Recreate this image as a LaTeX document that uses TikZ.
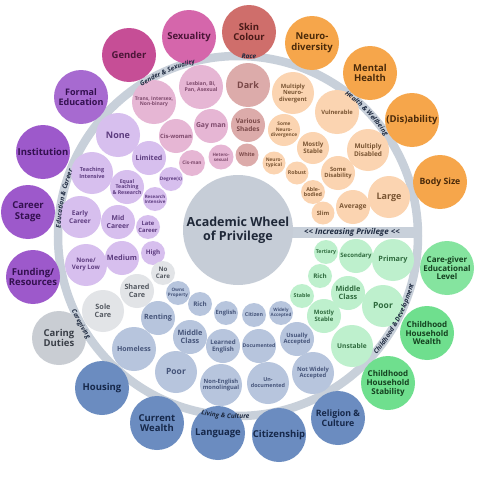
\documentclass[tikz,border=0pt]{standalone}
\usepackage{fontspec}
\setmainfont{Open Sans}
\usetikzlibrary{decorations.text}
\newcommand\fsz[1]{\fontsize{#1}{1.12\dimexpr#1pt\relax}\selectfont}
\definecolor{ringc}{HTML}{C8D0DA}
\definecolor{centerc}{HTML}{C6CDD7}
\definecolor{centertxt}{HTML}{1F2838}
\definecolor{ringtxt}{HTML}{1E2A40}
\definecolor{genderc}{HTML}{C64E96}
\definecolor{sexualc}{HTML}{D566AB}
\definecolor{skinc}{HTML}{CF6E6B}
\definecolor{orangec}{HTML}{F6A64B}
\definecolor{greenc}{HTML}{6FDF8E}
\definecolor{bluec}{HTML}{6B8CC0}
\definecolor{carec}{HTML}{C9CDD3}
\definecolor{purplec}{HTML}{9D59CB}
\definecolor{gendertxt}{HTML}{4A1536}
\definecolor{skintxt}{HTML}{4A1A18}
\definecolor{orangetxt}{HTML}{4A2A0A}
\definecolor{greentxt}{HTML}{14401F}
\definecolor{bluetxt}{HTML}{16284A}
\definecolor{caretxt}{HTML}{3A3F48}
\definecolor{purpletxt}{HTML}{33104F}
\definecolor{pkfill}{HTML}{E6B6D4}
\definecolor{rcfill}{HTML}{DCABAA}
\definecolor{pefill}{HTML}{FBD4B1}
\definecolor{lpfill}{HTML}{D7BFEE}
\definecolor{gyfill}{HTML}{E2E4E7}
\definecolor{blfill}{HTML}{B7C5DD}
\definecolor{grfill}{HTML}{BEF0CD}
\definecolor{pktxt}{HTML}{7E4A6C}
\definecolor{rctxt}{HTML}{7A4848}
\definecolor{petxt}{HTML}{7A5533}
\definecolor{lptxt}{HTML}{5E3D80}
\definecolor{gytxt}{HTML}{555A62}
\definecolor{bltxt}{HTML}{46557A}
\definecolor{grtxt}{HTML}{2F6B3E}
\newcommand\rl{\bfseries\itshape\fsz{6.5}}
\begin{document}
\begin{tikzpicture}[x=1pt,y=-1pt,
  bub/.style={circle, inner sep=0pt, align=center},
  outer/.style={bub, minimum size=54pt, font=\bfseries\fsz{9.5}},
  pkb/.style={bub, fill=pkfill, text=pktxt},
  rcb/.style={bub, fill=rcfill, text=rctxt},
  peb/.style={bub, fill=pefill, text=petxt},
  lpb/.style={bub, fill=lpfill, text=lptxt},
  gyb/.style={bub, fill=gyfill, text=gytxt},
  blb/.style={bub, fill=blfill, text=bltxt},
  grb/.style={bub, fill=grfill, text=grtxt},
  arclab/.style={decorate, decoration={text along path, text align=center, text color=ringtxt, text={#1}}},
  fs/.style={font=\bfseries\fsz{#1}}]
\useasboundingbox (0,0) rectangle (480,479);
\fill[white] (0,0) rectangle (480,479);
% ring and band
\coordinate (wc) at (238,236);
\draw[ringc, line width=8.5pt] (wc) circle[radius=180];
\fill[ringc] (285,226.5) rectangle (418,237.5);
% centre
\node[bub, fill=centerc, text=centertxt, minimum size=110pt, font=\bfseries\fsz{12.5}] (centre) at (238,230) {Academic Wheel\\of Privilege};
\node[inner sep=0pt, text=ringtxt, font=\bfseries\itshape\fsz{8}] (privilege) at (352,232) {<\kern0.2pt< Increasing Privilege <\kern0.2pt<};
% outer categories
\node[outer, fill=genderc, text=gendertxt] (gender) at (129,55) {Gender};
\node[outer, fill=sexualc, text=gendertxt] (sexuality) at (189,37) {Sexuality};
\node[outer, fill=skinc, text=skintxt] (skin) at (249,32) {Skin\\Colour};
\node[outer, fill=orangec, text=orangetxt] (neuro) at (312,43) {Neuro-\\diversity};
\node[outer, fill=orangec, text=orangetxt] (mental) at (370,73) {Mental\\Health};
\node[outer, fill=orangec, text=orangetxt] (disab) at (412,120) {(Dis)ability};
\node[outer, fill=orangec, text=orangetxt, fs=8.7] (body) at (440,182) {Body Size};
\node[outer, fill=greenc!85!white, text=greentxt, fs=8] (cgel) at (447,268) {Care-giver\\Educational\\Level};
\node[outer, fill=greenc, text=greentxt, fs=8] (chw) at (427,333) {Childhood\\Household\\Wealth};
\node[outer, fill=greenc, text=greentxt, fs=8] (chs) at (388,383) {Childhood\\Household\\Stability};
\node[outer, fill=bluec, text=bluetxt, fs=8.8] (relig) at (338,418) {Religion \&\\Culture};
\node[outer, fill=bluec, text=bluetxt] (citiz) at (279,435) {Citizenship};
\node[outer, fill=bluec, text=bluetxt] (lang) at (218,433) {Language};
\node[outer, fill=bluec, text=bluetxt] (wealth) at (157,423) {Current\\Wealth};
\node[outer, fill=bluec, text=bluetxt] (housing) at (102,388) {Housing};
\node[outer, fill=carec, text=caretxt] (caring) at (59,338) {Caring\\Duties};
\node[outer, fill=purplec, text=purpletxt] (funding) at (33,277) {Funding/\\Resources};
\node[outer, fill=purplec, text=purpletxt] (career) at (28,212) {Career\\Stage};
\node[outer, fill=purplec, text=purpletxt] (instit) at (43,152) {Institution};
\node[outer, fill=purplec!90!white, text=purpletxt, fs=9] (formal) at (81,97) {Formal\\Education};
% gender & sexuality
\node[pkb, minimum size=44pt, fs=5] (trans) at (154,102) {Trans, Intersex,\\Non-binary};
\node[pkb, minimum size=44pt, fs=5.2] (lesbian) at (201,87) {Lesbian, Bi,\\Pan, Asexual};
\node[pkb, minimum size=34pt, fs=5.8] (ciswoman) at (176,136) {Cis-woman};
\node[pkb, minimum size=34pt, fs=6.8] (gayman) at (211,126) {Gay man};
\node[pkb, minimum size=26pt, fs=4.8] (cisman) at (192,163) {Cis-man};
\node[pkb, minimum size=25pt, fs=4.5] (hetero) at (221,157) {Hetero-\\sexual};
% race
\node[rcb, minimum size=44pt, fs=9] (dark) at (248,85) {Dark};
\node[rcb, minimum size=34pt, fs=6.5] (various) at (248,125) {Various\\Shades};
\node[rcb, minimum size=23pt, fs=5.3] (white) at (247,155) {White};
% health & wellbeing
\node[peb, minimum size=42pt, fs=5.8] (multneuro) at (293,93) {Multiply\\Neuro-\\divergent};
\node[peb, minimum size=32pt, fs=4.8] (someneuro) at (284,130) {Some\\Neuro-\\divergence};
\node[peb, minimum size=23pt, fs=4.8] (neurotyp) at (274,163) {Neuro-\\typical};
\node[peb, minimum size=44pt, fs=5.8] (vulner) at (337,112) {Vulnerable};
\node[peb, minimum size=32pt, fs=6.2] (mostlystab) at (313,148) {Mostly\\Stable};
\node[peb, minimum size=23pt, fs=5.2] (robust) at (297,173) {Robust};
\node[peb, minimum size=42pt, fs=6.5] (multdis) at (368,150) {Multiply\\Disabled};
\node[peb, minimum size=34pt, fs=5.8] (somedis) at (338,173) {Some\\Disability};
\node[peb, minimum size=24pt, fs=5.3] (able) at (313,192) {Able-\\bodied};
\node[peb, minimum size=42pt, fs=9] (large) at (389,197) {Large};
\node[peb, minimum size=34pt, fs=6.7] (average) at (353,207) {Average};
\node[peb, minimum size=23pt, fs=5.8] (slim) at (323,213) {Slim};
% education & career
\node[lpb, minimum size=44pt, fs=9] (none) at (118,135) {None};
\node[lpb, minimum size=34pt, fs=7] (limited) at (149,158) {Limited};
\node[lpb, minimum size=24pt, fs=4.7] (degree) at (171,179) {Degree(s)};
\node[lpb, minimum size=42pt, fs=5.5] (teaching) at (92,173) {Teaching\\Intensive};
\node[lpb, minimum size=34pt, fs=5.2] (equal) at (127,187) {Equal\\Teaching\\\& Research};
\node[lpb, minimum size=24pt, fs=4.5] (research) at (155,199) {Research\\Intensive};
\node[lpb, minimum size=42pt, fs=6.5] (early) at (80,217) {Early\\Career};
\node[lpb, minimum size=34pt, fs=6.8] (mid) at (118,222) {Mid\\Career};
\node[lpb, minimum size=24pt, fs=5.8] (late) at (148,227) {Late\\Career};
\node[lpb, minimum size=42pt, fs=6.2] (nonelow) at (86,265) {None/\\Very Low};
\node[lpb, minimum size=34pt, fs=7.3] (medium) at (122,258) {Medium};
\node[lpb, minimum size=24pt, fs=6.3] (high) at (153,253) {High};
% caregiving
\node[gyb, minimum size=42pt, fs=7.3] (sole) at (103,311) {Sole\\Care};
\node[gyb, minimum size=34pt, fs=7.2] (shared) at (137,291) {Shared\\Care};
\node[gyb, minimum size=24pt, fs=6.2] (nocare) at (163,273) {No\\Care};
% living & culture
\node[blb, minimum size=44pt, fs=7] (homeless) at (134,349) {Homeless};
\node[blb, minimum size=34pt, fs=7.2] (renting) at (158,318) {Renting};
\node[blb, minimum size=24pt, fs=4.6] (owns) at (178,293) {Owns\\Property};
\node[blb, minimum size=42pt, fs=8.5] (poor) at (176,372) {Poor};
\node[blb, minimum size=34pt, fs=7.3] (midclass) at (190,337) {Middle\\Class};
\node[blb, minimum size=24pt, fs=6.3] (rich) at (200,304) {Rich};
\node[blb, minimum size=42pt, fs=5.8] (nonenglish) at (221,385) {Non-English\\monolingual};
\node[blb, minimum size=34pt, fs=6.2] (learned) at (223,346) {Learned\\English};
\node[blb, minimum size=24pt, fs=5.8] (english) at (226,313) {English};
\node[blb, minimum size=42pt, fs=5.4] (undoc) at (268,383) {Un-\\documented};
\node[blb, minimum size=34pt, fs=5.1] (doc) at (259,346) {Documented};
\node[blb, minimum size=24pt, fs=5.3] (citizen) at (254,315) {Citizen};
\node[blb, minimum size=42pt, fs=5.8] (notwidely) at (313,373) {Not Widely\\Accepted};
\node[blb, minimum size=34pt, fs=5.8] (usually) at (297,339) {Usually\\Accepted};
\node[blb, minimum size=24pt, fs=4.5] (widely) at (281,313) {Widely\\Accepted};
% childhood & development
\node[grb, minimum size=42pt, fs=7.3] (primary) at (393,260) {Primary};
\node[grb, minimum size=34pt, fs=6] (secondary) at (356,256) {Secondary};
\node[grb, minimum size=24pt, fs=5.2] (tertiary) at (326,252) {Tertiary};
\node[grb, minimum size=42pt, fs=8.5] (cpoor) at (383,306) {Poor};
\node[grb, minimum size=34pt, fs=7.3] (cmid) at (348,293) {Middle\\Class};
\node[grb, minimum size=24pt, fs=6.3] (crich) at (320,276) {Rich};
\node[grb, minimum size=42pt, fs=6.6] (unstable) at (352,346) {Unstable};
\node[grb, minimum size=34pt, fs=6] (cmostly) at (324,316) {Mostly\\Stable};
\node[grb, minimum size=24pt, fs=5.3] (stable) at (302,296) {Stable};
% ring labels, set along the ring
\begin{scope}[shift={(wc)}, y=1pt]
\path[arclab={|\rl|Gender {\&} Sexuality}] (133.4:177.6) arc[start angle=133.4, end angle=93.4, radius=177.6];
\path[arclab={|\rl|Race}] (106.5:177.6) arc[start angle=106.5, end angle=66.5, radius=177.6];
\path[arclab={|\rl|Health {\&} Wellbeing}] (68.6:177.6) arc[start angle=68.6, end angle=18.6, radius=177.6];
\path[arclab={|\rl|Education {\&} Career}] (197.9:177.6) arc[start angle=197.9, end angle=137.9, radius=177.6];
\path[arclab={|\rl|Caregiving}] (189.3:182.4) arc[start angle=189.3, end angle=229.3, radius=182.4];
\path[arclab={|\rl|Living {\&} Culture}] (246:182.4) arc[start angle=246, end angle=286, radius=182.4];
\path[arclab={|\rl|Childhood {\&} Development}] (302:182.4) arc[start angle=302, end angle=362, radius=182.4];
\end{scope}
\end{tikzpicture}
\end{document}
